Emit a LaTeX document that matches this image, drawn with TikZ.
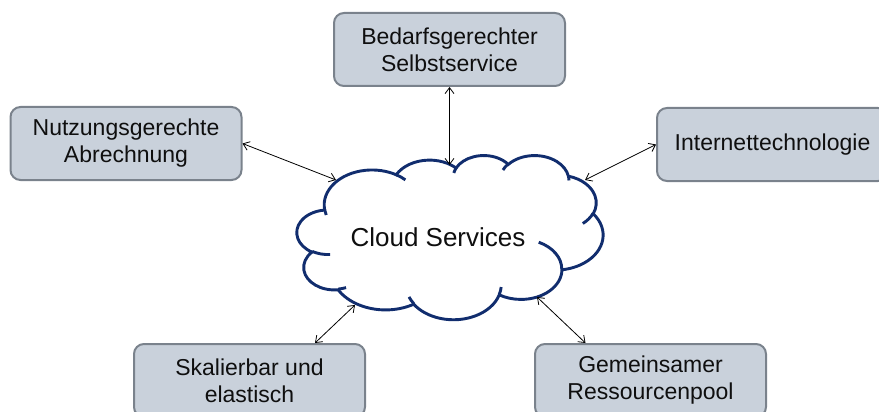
\documentclass[tikz,border=0pt]{standalone}
\usepackage{fontspec}
\setmainfont{Liberation Sans}
\usetikzlibrary{arrows.meta}
\definecolor{boxfill}{RGB}{201,209,219}
\definecolor{boxline}{RGB}{122,130,140}
\definecolor{cloudline}{RGB}{17,45,110}
\definecolor{txt}{RGB}{15,15,15}
% scale of the cloud outline (units of 1000 in a 43.2 x 43.2 frame)
\def\kx{7.0833pt}
\def\ky{3.80pt}
\tikzset{
  featbox/.style={draw=boxline, line width=2pt, fill=boxfill, rounded corners=10pt,
    minimum width=231pt, minimum height=73pt, align=center, inner sep=0pt,
    text=txt, font=\fontsize{23}{27}\selectfont},
  link/.style={line width=0.8pt,
    {Straight Barb[length=6pt,width=9pt]}-{Straight Barb[length=6pt,width=9pt]}},
  cloudpen/.style={draw=cloudline, line width=2.9pt},
  % elliptic arc given by radii (frame units) and visual start/sweep angles (y downward)
  ooarc/.style n args={4}{insert path={arc[
    start angle={-atan2((#1)*sin(#3),(#2)*cos(#3))},
    delta angle={-(mod(atan2((#1)*sin((#3)+(#4)),(#2)*cos((#3)+(#4)))-atan2((#1)*sin(#3),(#2)*cos(#3))+720,360)-ifthenelse((#4)<0,360,0))},
    x radius={(#1)*\kx}, y radius={(#2)*\ky}]}}
}
\begin{document}
\begin{tikzpicture}[x=1pt, y=-1pt]
\useasboundingbox (0,0) rectangle (879,412);

% cloud
\begin{scope}[shift={(297,155)}, x=7.0833pt, y=-3.80pt]
  \draw[cloudpen, fill=white] (3.9,14.37)
    [ooarc={6.753}{9.190}{-190.4875}{123.7805}]
    [ooarc={5.333}{7.267}{-144.1024}{89.9452}]
    [ooarc={4.365}{5.945}{-145.8079}{99.7230}]
    [ooarc={4.857}{6.595}{-130.9861}{117.2417}]
    [ooarc={5.333}{7.273}{-78.7089}{109.0269}]
    [ooarc={6.775}{9.220}{-46.2673}{130.2690}]
    [ooarc={5.785}{7.867}{0.6250}{114.0333}]
    [ooarc={6.752}{9.215}{22.4516}{115.1726}]
    [ooarc={7.720}{10.543}{66.2426}{75.7110}]
    [ooarc={4.360}{5.918}{-274.9421}{146.7356}]
    [ooarc={4.345}{5.945}{-246.8285}{152.5189}] -- cycle;
  \draw[cloudpen]
    (4.693,26.177) [ooarc={4.345}{5.945}{86.7420}{26.4295}]
    (6.928,34.899) [ooarc={4.360}{5.918}{73.6105}{11.4475}]
    (16.478,39.090) [ooarc={6.752}{9.215}{137.6242}{14.0811}]
    (28.827,34.751) [ooarc={6.752}{9.215}{6.4533}{15.9984}]
    (34.129,22.954) [ooarc={5.785}{7.867}{-70.2924}{70.9174}]
    (41.798,15.354) [ooarc={5.333}{7.273}{30.3180}{27.7515}]
    (38.324,5.426) [ooarc={4.857}{6.595}{-13.7443}{14.8589}]
    (29.078,3.952) [ooarc={4.857}{6.595}{-149.1815}{18.1954}]
    (22.141,4.720) [ooarc={4.365}{5.945}{-163.4943}{17.6864}]
    (14.000,5.192) [ooarc={6.753}{9.190}{-66.7070}{12.3194}]
    (4.127,15.789) [ooarc={6.753}{9.190}{157.6544}{11.8582}];
\end{scope}
\node[text=txt, font=\fontsize{26}{30}\selectfont, inner sep=0pt] (cs) at (438,237) {Cloud Services};

% feature boxes
\node[featbox] (top) at (449.5,49.5) {Bedarfsgerechter\\Selbstservice};
\node[featbox] (lft) at (126,143.5) {Nutzungsgerechte\\Abrechnung};
\node[featbox] (rgt) at (772.5,144.5) {Internettechnologie};
\node[featbox] (bl) at (249.5,380.5) {Skalierbar und\\elastisch};
\node[featbox] (br) at (650.5,380.5) {Gemeinsamer\\Ressourcenpool};

% points on the cloud outline
\coordinate (eTop) at (449.5,165);
\coordinate (eLeft) at (336,180);
\coordinate (eRight) at (585,180);
\coordinate (eBL) at (355,305);
\coordinate (eBR) at (537,297);

% connectors
\draw[link] (top.south) -- (eTop);
\draw[link] (lft.east) -- (eLeft);
\draw[link] (eRight) -- (rgt.west);
\draw[link] ([xshift=65.5pt]bl.north) -- (eBL);
\draw[link] ([xshift=-65pt]br.north) -- (eBR);
\end{tikzpicture}
\end{document}
